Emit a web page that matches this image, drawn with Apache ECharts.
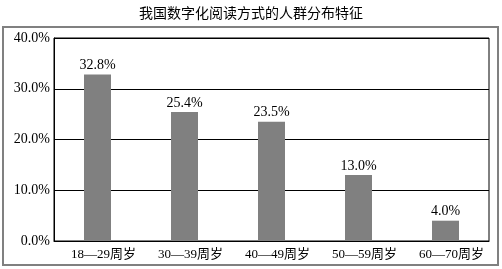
<!DOCTYPE html>
<html><head><meta charset="utf-8">
<script src="https://cdn.jsdelivr.net/npm/echarts@6/dist/echarts.min.js"></script>
<style>html,body{margin:0;padding:0;background:#fff}#c{width:502px;height:269px}</style>
</head><body><div id="c"></div>
<script>
var categories = ['18—29周岁', '30—39周岁', '40—49周岁', '50—59周岁', '60—70周岁'];
var values = [32.8, 25.4, 23.5, 13.0, 4.0];
var titleText = '我国数字化阅读方式的人群分布特征';
var FONT = '"Liberation Serif", "Noto Sans CJK SC", serif';
var chart = echarts.init(document.getElementById('c'), null, {renderer: 'canvas'});
chart.setOption({
  animation: false,
  title: {text: titleText, left: 'center', top: 2, textStyle: {fontFamily: FONT, fontSize: 14, fontWeight: 'normal', color: '#000'}},
  graphic: [{type: 'rect', shape: {x: 3, y: 27, width: 495, height: 238}, style: {fill: 'none', stroke: '#808080', lineWidth: 2}, z: -1}],
  grid: {left: 54, right: 13, top: 38, bottom: 28, show: true, borderColor: '#000', borderWidth: 1},
  xAxis: {type: 'category', data: categories,
    axisLine: {lineStyle: {color: '#000'}}, axisTick: {show: false},
    axisLabel: {color: '#000', fontFamily: FONT, fontSize: 13, margin: 7, padding: [0, 0, 0, 12], interval: 0}},
  yAxis: {type: 'value', min: 0, max: 40, interval: 10,
    axisLine: {show: true, lineStyle: {color: '#000'}}, axisTick: {show: false},
    splitLine: {lineStyle: {color: '#000', width: 1}},
    axisLabel: {color: '#000', fontFamily: FONT, fontSize: 14, margin: 4, formatter: function(v){return v.toFixed(1) + '%';}}},
  series: [{type: 'bar', data: values, barWidth: 27, itemStyle: {color: '#808080'},
    label: {show: true, position: 'top', distance: 2, color: '#000', fontFamily: FONT, fontSize: 14,
      formatter: function(p){return p.value.toFixed(1) + '%';}}}]
});
</script></body></html>
